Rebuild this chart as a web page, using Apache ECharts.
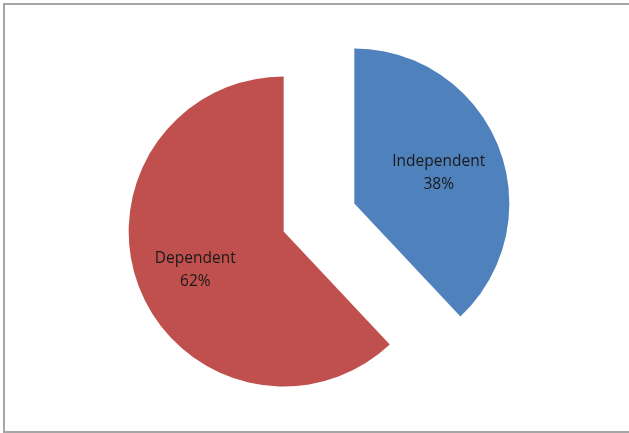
<!DOCTYPE html>
<html><head><meta charset="utf-8">
<script src="https://cdn.jsdelivr.net/npm/echarts@6/dist/echarts.min.js"></script>
<style>html,body{margin:0;padding:0;background:#fff}#c{width:629px;height:433px}</style>
</head><body><div id="c"></div>
<script>
const categories = ['Independent', 'Dependent'];
const values = [38, 62];
const colors = ['#4F81BD', '#C0504D'];

const chart = echarts.init(document.getElementById('c'), null, {renderer: 'canvas'});
const total = values.reduce((a, b) => a + b, 0);
const R = 155;
const extra = 0.08 * R; // push labels slightly outward from the default mid-radius
let acc = 0;
const mids = values.map(v => { const m = (acc + v / 2) / total * 2 * Math.PI; acc += v; return m; });

chart.setOption({
  animation: false,
  backgroundColor: '#fff',
  graphic: [{
    type: 'rect', shape: {x: 4, y: 4, width: 660, height: 428},
    style: {fill: 'none', stroke: '#a6a6a6', lineWidth: 2}, silent: true
  }],
  series: [{
    type: 'pie',
    center: [319, 217.5],
    radius: [0, R],
    startAngle: 90,
    clockwise: true,
    selectedMode: 'multiple',
    selectedOffset: 38,
    emphasis: {disabled: true},
    label: {
      show: true, position: 'inside',
      formatter: p => p.name + '\n' + p.percent.toFixed(0) + '%',
      fontFamily: 'Open Sans, DejaVu Sans, sans-serif', fontSize: 15.5, lineHeight: 23,
      color: '#1a1a1a'
    },
    labelLayout: p => ({dx: extra * Math.sin(mids[p.dataIndex]) - 2, dy: -extra * Math.cos(mids[p.dataIndex]) + 4}),
    labelLine: {show: false},
    data: categories.map((c, i) => ({name: c, value: values[i], selected: true, itemStyle: {color: colors[i]}}))
  }]
});
</script></body></html>
